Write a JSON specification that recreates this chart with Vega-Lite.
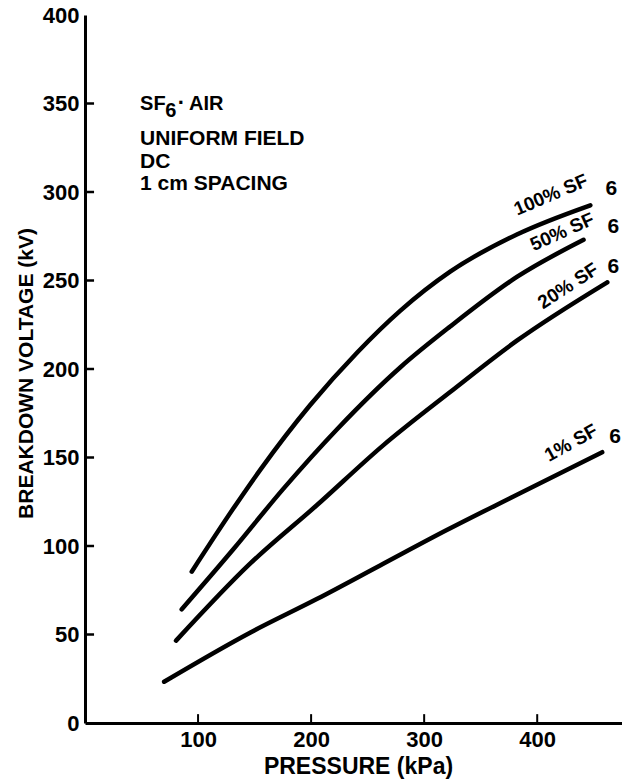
{
  "$schema": "https://vega.github.io/schema/vega-lite/v6.json",
  "width": 537,
  "height": 708,
  "autosize": {"type": "none"},
  "padding": {"left": 85, "top": 15, "right": 0, "bottom": 59},
  "background": "white",
  "config": {
    "view": {"stroke": null},
    "font": "Liberation Sans",
    "axis": {
      "grid": false,
      "ticks": false,
      "domainColor": "black",
      "domainWidth": 3,
      "labelFont": "Liberation Sans",
      "labelFontWeight": "bold",
      "labelFontSize": 22,
      "labelColor": "black",
      "titleFont": "Liberation Sans",
      "titleFontWeight": "bold",
      "titleFontSize": 23,
      "titleColor": "black"
    }
  },
  "datasets": {
    "curves": [
      {"series": "100%", "pressure": 94.4, "voltage": 85.5},
      {"series": "100%", "pressure": 131, "voltage": 121},
      {"series": "100%", "pressure": 155, "voltage": 143},
      {"series": "100%", "pressure": 199, "voltage": 179.5},
      {"series": "100%", "pressure": 241, "voltage": 209.5},
      {"series": "100%", "pressure": 279, "voltage": 233},
      {"series": "100%", "pressure": 323, "voltage": 255},
      {"series": "100%", "pressure": 382, "voltage": 276},
      {"series": "100%", "pressure": 447, "voltage": 292.5},
      {"series": "50%", "pressure": 85.5, "voltage": 64.2},
      {"series": "50%", "pressure": 131, "voltage": 98},
      {"series": "50%", "pressure": 175, "voltage": 132},
      {"series": "50%", "pressure": 223, "voltage": 166},
      {"series": "50%", "pressure": 279, "voltage": 201},
      {"series": "50%", "pressure": 323, "voltage": 224},
      {"series": "50%", "pressure": 382, "voltage": 252},
      {"series": "50%", "pressure": 441, "voltage": 273},
      {"series": "20%", "pressure": 80.5, "voltage": 46.5},
      {"series": "20%", "pressure": 146, "voltage": 90},
      {"series": "20%", "pressure": 205, "voltage": 123},
      {"series": "20%", "pressure": 264, "voltage": 157},
      {"series": "20%", "pressure": 323, "voltage": 187},
      {"series": "20%", "pressure": 382, "voltage": 216},
      {"series": "20%", "pressure": 462, "voltage": 249},
      {"series": "1%", "pressure": 70, "voltage": 23.3},
      {"series": "1%", "pressure": 146, "voltage": 51},
      {"series": "1%", "pressure": 205, "voltage": 70},
      {"series": "1%", "pressure": 261, "voltage": 89},
      {"series": "1%", "pressure": 320, "voltage": 109},
      {"series": "1%", "pressure": 379, "voltage": 128},
      {"series": "1%", "pressure": 457.5, "voltage": 153}
    ],
    "yTicks": [
      {"voltage": 50}, {"voltage": 100}, {"voltage": 150}, {"voltage": 200},
      {"voltage": 250}, {"voltage": 300}, {"voltage": 350}
    ],
    "xTicks": [
      {"pressure": 100}, {"pressure": 200}, {"pressure": 300}, {"pressure": 400}
    ],
    "curveLabels": [
      {"text": "100% SF", "pressure": 412, "voltage": 298.3, "rot": -23, "size": 19},
      {"text": "6", "pressure": 465.5, "voltage": 301.7, "rot": 0, "size": 21},
      {"text": "50% SF", "pressure": 422.1, "voltage": 277.4, "rot": -24, "size": 19},
      {"text": "6", "pressure": 467.3, "voltage": 280.2, "rot": 0, "size": 21},
      {"text": "20% SF", "pressure": 427.4, "voltage": 246.9, "rot": -33, "size": 19},
      {"text": "6", "pressure": 467.3, "voltage": 257.6, "rot": 0, "size": 21},
      {"text": "1% SF", "pressure": 430, "voltage": 158.2, "rot": -29, "size": 19},
      {"text": "6", "pressure": 469, "voltage": 161.6, "rot": 0, "size": 21}
    ],
    "notes": [
      {"text": "SF", "pressure": 48.7, "voltage": 346.3, "size": 20},
      {"text": "6", "pressure": 71, "voltage": 342.4, "size": 20},
      {"text": "·", "pressure": 82, "voltage": 346.3, "size": 22},
      {"text": "AIR", "pressure": 92, "voltage": 346.3, "size": 20},
      {"text": "UNIFORM FIELD", "pressure": 48.7, "voltage": 326.6, "size": 21},
      {"text": "DC", "pressure": 48.7, "voltage": 313.6, "size": 21},
      {"text": "1 cm SPACING", "pressure": 48.7, "voltage": 301.1, "size": 21}
    ]
  },
  "layer": [
    {
      "data": {"name": "curves"},
      "mark": {"type": "line", "color": "black", "strokeWidth": 4.5, "strokeCap": "round", "interpolate": "monotone"},
      "encoding": {
        "x": {
          "field": "pressure", "type": "quantitative",
          "scale": {"domain": [0, 475], "nice": false, "zero": false},
          "axis": {
            "values": [100, 200, 300, 400],
            "labelPadding": 6,
            "title": "PRESSURE (kPa)",
            "titleX": 273, "titleY": 43,
            "titleAlign": "center", "titleBaseline": "middle"
          }
        },
        "y": {
          "field": "voltage", "type": "quantitative",
          "scale": {"domain": [0, 400], "nice": false},
          "axis": {
            "values": [0, 50, 100, 150, 200, 250, 300, 350, 400],
            "labelPadding": 6,
            "title": "BREAKDOWN VOLTAGE (kV)",
            "titleFontSize": 21,
            "titleX": -59, "titleY": 358,
            "titleAngle": 270,
            "titleAlign": "center", "titleBaseline": "middle"
          }
        },
        "detail": {"field": "series"}
      }
    },
    {
      "mark": {"type": "rule", "color": "black", "strokeWidth": 3},
      "encoding": {"y": {"datum": 400}}
    },
    {
      "data": {"name": "yTicks"},
      "mark": {"type": "rule", "color": "black", "strokeWidth": 2.5},
      "encoding": {
        "y": {"field": "voltage", "type": "quantitative"},
        "x": {"datum": 0},
        "x2": {"datum": 8}
      }
    },
    {
      "data": {"name": "xTicks"},
      "mark": {"type": "rule", "color": "black", "strokeWidth": 2},
      "encoding": {
        "x": {"field": "pressure", "type": "quantitative"},
        "y": {"datum": 0},
        "y2": {"datum": 5}
      }
    },
    {
      "data": {"name": "curveLabels"},
      "mark": {"type": "text", "font": "Liberation Sans", "fontWeight": "bold", "color": "black", "align": "center", "baseline": "middle"},
      "encoding": {
        "x": {"field": "pressure", "type": "quantitative"},
        "y": {"field": "voltage", "type": "quantitative"},
        "angle": {"field": "rot", "type": "quantitative", "scale": null},
        "size": {"field": "size", "type": "quantitative", "scale": null},
        "text": {"field": "text"}
      }
    },
    {
      "data": {"name": "notes"},
      "mark": {"type": "text", "font": "Liberation Sans", "fontWeight": "bold", "color": "black", "align": "left", "baseline": "alphabetic"},
      "encoding": {
        "x": {"field": "pressure", "type": "quantitative"},
        "y": {"field": "voltage", "type": "quantitative"},
        "size": {"field": "size", "type": "quantitative", "scale": null},
        "text": {"field": "text"}
      }
    }
  ]
}
